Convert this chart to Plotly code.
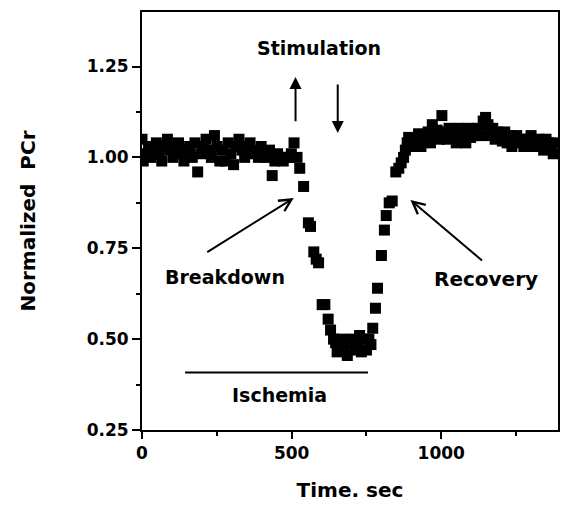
import plotly.graph_objects as go

# ---- data ----
time_sec = [0, 4, 12, 22, 30, 40, 48, 58, 66, 76, 85, 94, 103, 112, 122, 131, 140, 150, 159, 168,
            177, 186, 196, 205, 214, 223, 232, 242, 251, 260, 269, 278, 288, 297, 306, 315, 324, 334,
            343, 352, 361, 370, 380, 389, 398, 407, 416, 426, 435, 444, 453, 462, 472, 481, 490, 499,
            508, 518, 527,
            540, 556, 563, 574, 582, 590, 602, 611, 622, 630, 640, 647, 652, 661, 668, 676, 686, 695,
            702, 712, 720, 727, 733, 742, 750, 758, 765, 771, 780, 787, 800, 810, 816, 826, 836, 848,
            858, 866,
            874, 880, 886, 891, 900, 908, 916, 924, 932, 940, 948, 956, 964, 970, 978, 986, 994, 1002,
            1010, 1018, 1026, 1034, 1042, 1050, 1058, 1066, 1074, 1082, 1090, 1098, 1106, 1114, 1122,
            1130, 1140, 1148, 1156, 1164, 1172, 1180, 1188, 1196, 1204, 1212, 1220, 1228, 1236, 1244,
            1252, 1260, 1268, 1276, 1284, 1292, 1300, 1310, 1318, 1326, 1334, 1342, 1350, 1358, 1366,
            1374, 1384]
pcr = [1.05, 0.99, 1.01, 1.03, 1.00, 1.02, 1.04, 1.01, 0.99, 1.03, 1.05, 1.02, 1.00, 1.03, 1.04, 1.01,
       0.99, 1.02, 1.03, 1.00, 1.04, 0.96, 1.01, 1.03, 1.05, 1.02, 1.00, 1.06, 1.03, 0.99, 1.02, 0.99,
       1.04, 1.01, 0.98, 1.03, 1.05, 1.02, 1.00, 1.03, 1.04, 1.01, 1.02, 1.00, 1.03, 1.01, 1.00, 1.02,
       0.95, 0.99, 1.01, 1.00, 0.99, 1.00, 1.00, 1.01, 1.04, 1.00, 0.97,
       0.92, 0.82, 0.81, 0.74, 0.72, 0.71, 0.595, 0.595, 0.555, 0.525, 0.50, 0.49, 0.465, 0.48, 0.50,
       0.47, 0.455, 0.49, 0.50, 0.47, 0.49, 0.51, 0.465, 0.50, 0.47, 0.50, 0.485, 0.53, 0.585, 0.64,
       0.73, 0.80, 0.84, 0.875, 0.88, 0.96, 0.97, 0.985,
       1.00, 1.02, 1.04, 1.055, 1.03, 1.05, 1.045, 1.065, 1.03, 1.06, 1.05, 1.07, 1.04, 1.09, 1.06,
       1.075, 1.05, 1.115, 1.07, 1.05, 1.08, 1.06, 1.07, 1.04, 1.08, 1.06, 1.07, 1.04, 1.08, 1.055,
       1.07, 1.06, 1.08, 1.06, 1.10, 1.11, 1.09, 1.06, 1.08, 1.05, 1.07, 1.06, 1.045, 1.07, 1.04,
       1.06, 1.03, 1.05, 1.06, 1.04, 1.05, 1.03, 1.05, 1.04, 1.06, 1.03, 1.03, 1.05, 1.04, 1.02, 1.05,
       1.04, 1.03, 1.01, 1.04]

y_ticks = [0.25, 0.50, 0.75, 1.00, 1.25]
y_tick_labels = ["0.25", "0.50", "0.75", "1.00", "1.25"]
x_ticks = [0, 500, 1000]
x_tick_labels = ["0", "500", "1000"]

ischemia_start, ischemia_end, ischemia_level = 144, 755, 0.408

FONT = "DejaVu Sans"

fig = go.Figure()
fig.add_trace(go.Scatter(
    x=time_sec, y=pcr, mode="markers",
    marker=dict(symbol="square", size=11, color="black", line=dict(width=0)),
    showlegend=False, hoverinfo="skip"))

fig.add_shape(type="line", x0=ischemia_start, x1=ischemia_end, y0=ischemia_level, y1=ischemia_level,
              xref="x", yref="y", line=dict(color="black", width=2))

texts = [
    ("Stimulation", 590, 1.30, 19),
    ("Breakdown", 278, 0.67, 19),
    ("Recovery", 1150, 0.665, 20),
    ("Ischemia", 460, 0.345, 19),
]
for t, x, y, s in texts:
    fig.add_annotation(text="<b>%s</b>" % t, x=x, y=y, xref="x", yref="y",
                       showarrow=False, font=dict(family=FONT, size=s, color="black"))

arrows = [
    # (head_x, head_y, tail_x, tail_y, style)
    (513, 1.221, 513, 1.095, 2),
    (654, 1.067, 654, 1.205, 2),
    (507, 0.888, 213, 0.737, 5),
    (897, 0.883, 1141, 0.713, 5),
]
for hx, hy, tx, ty, st in arrows:
    fig.add_annotation(x=hx, y=hy, ax=tx, ay=ty, xref="x", yref="y", axref="x", ayref="y",
                       text="", showarrow=True, arrowhead=st, arrowsize=1.2, arrowwidth=2,
                       arrowcolor="black")

fig.update_layout(
    width=562, height=507,
    margin=dict(l=142, r=2, t=12, b=77),
    paper_bgcolor="white", plot_bgcolor="white",
    font=dict(family=FONT, color="black"),
    xaxis=dict(range=[0, 1390], tickvals=x_ticks, ticktext=x_tick_labels,
               ticks="outside", ticklen=7, tickwidth=2, tickcolor="black",
               showline=True, linecolor="black", linewidth=2, mirror=True,
               showgrid=False, zeroline=False,
               tickfont=dict(family=FONT, size=17, weight="bold"),
               minor=dict(tickvals=[250, 750, 1250], ticks="outside", ticklen=4,
                          tickwidth=2, tickcolor="black"),
               title=dict(text="Time. sec", font=dict(family=FONT, size=20, weight="bold"),
                          standoff=21)),
    yaxis=dict(range=[0.25, 1.40], tickvals=y_ticks, ticktext=y_tick_labels,
               ticks="outside", ticklen=8, tickwidth=2, tickcolor="black",
               showline=True, linecolor="black", linewidth=2, mirror=True,
               showgrid=False, zeroline=False,
               tickfont=dict(family=FONT, size=17, weight="bold"),
               minor=dict(tickvals=[0.375, 0.625, 0.875, 1.125], ticks="outside", ticklen=4,
                          tickwidth=2, tickcolor="black"),
               title=dict(text="Normalized  PCr", font=dict(family=FONT, size=20, weight="bold"),
                          standoff=46)),
)

fig.write_html("out.html")
